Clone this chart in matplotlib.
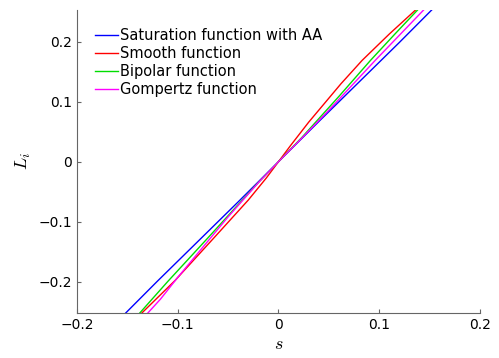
import matplotlib
matplotlib.use('Agg')
import matplotlib.pyplot as plt

plt.rcParams['font.family'] = ['DejaVu Sans']
plt.rcParams['mathtext.fontset'] = 'cm'

# Werte
s_blue = [-0.152, -0.12, -0.08, -0.04, 0.0, 0.04, 0.08, 0.12, 0.152]
L_blue = [-0.253, -0.199, -0.133, -0.067, 0.0, 0.067, 0.133, 0.199, 0.253]

s_red = [-0.136, -0.1026, -0.0608, -0.03, -0.012, 0.0, 0.012, 0.03, 0.062, 0.083, 0.11, 0.136]
L_red = [-0.253, -0.198, -0.121, -0.064, -0.027, 0.0, 0.027, 0.066, 0.13, 0.169, 0.213, 0.253]

s_green = [-0.138, -0.11, -0.07, -0.0235, 0.0, 0.0235, 0.06, 0.0913, 0.115, 0.138]
L_green = [-0.253, -0.2, -0.127, -0.041, 0.0, 0.041, 0.109, 0.169, 0.212, 0.253]

s_mag = [-0.130, -0.117, -0.1, -0.05, -0.02, 0.0, 0.02, 0.05, 0.096, 0.12, 0.144]
L_mag = [-0.253, -0.229, -0.193, -0.092, -0.035, 0.0, 0.034, 0.086, 0.169, 0.211, 0.253]

fig = plt.figure(figsize=(4.99, 3.58), dpi=100)
ax = fig.add_axes([0.154, 0.126, 0.808, 0.846])

ax.plot(s_blue, L_blue, color='#0000ff', lw=1.0, label='Saturation function with AA')
ax.plot(s_red, L_red, color='#ff0000', lw=1.0, label='Smooth function')
ax.plot(s_green, L_green, color='#00dd00', lw=1.0, label='Bipolar function')
ax.plot(s_mag, L_mag, color='#ff00ff', lw=1.0, label='Gompertz function')

ax.set_xlim(-0.2, 0.2)
ax.set_ylim(-0.252, 0.253)
ax.set_xticks([-0.2, -0.1, 0, 0.1, 0.2])
ax.set_xticklabels(['\u22120.2', '\u22120.1', '0', '0.1', '0.2'])
ax.set_yticks([-0.2, -0.1, 0, 0.1, 0.2])
ax.set_yticklabels(['\u22120.2', '\u22120.1', '0', '0.1', '0.2'])
ax.tick_params(direction='in', length=3, labelsize=10, color='0.4')

for side in ['top', 'right']:
    ax.spines[side].set_visible(False)
for side in ['left', 'bottom']:
    ax.spines[side].set_color('0.4')

ax.set_xlabel('$s$', fontsize=13, labelpad=2)
ax.set_ylabel('$L_i$', fontsize=13, labelpad=4)

ax.legend(loc='upper left', bbox_to_anchor=(0.03, 0.96), frameon=False,
          fontsize=10.5, handlelength=1.6, handletextpad=0.15,
          labelspacing=0.2, borderaxespad=0)

plt.savefig('out.png', dpi=100)
